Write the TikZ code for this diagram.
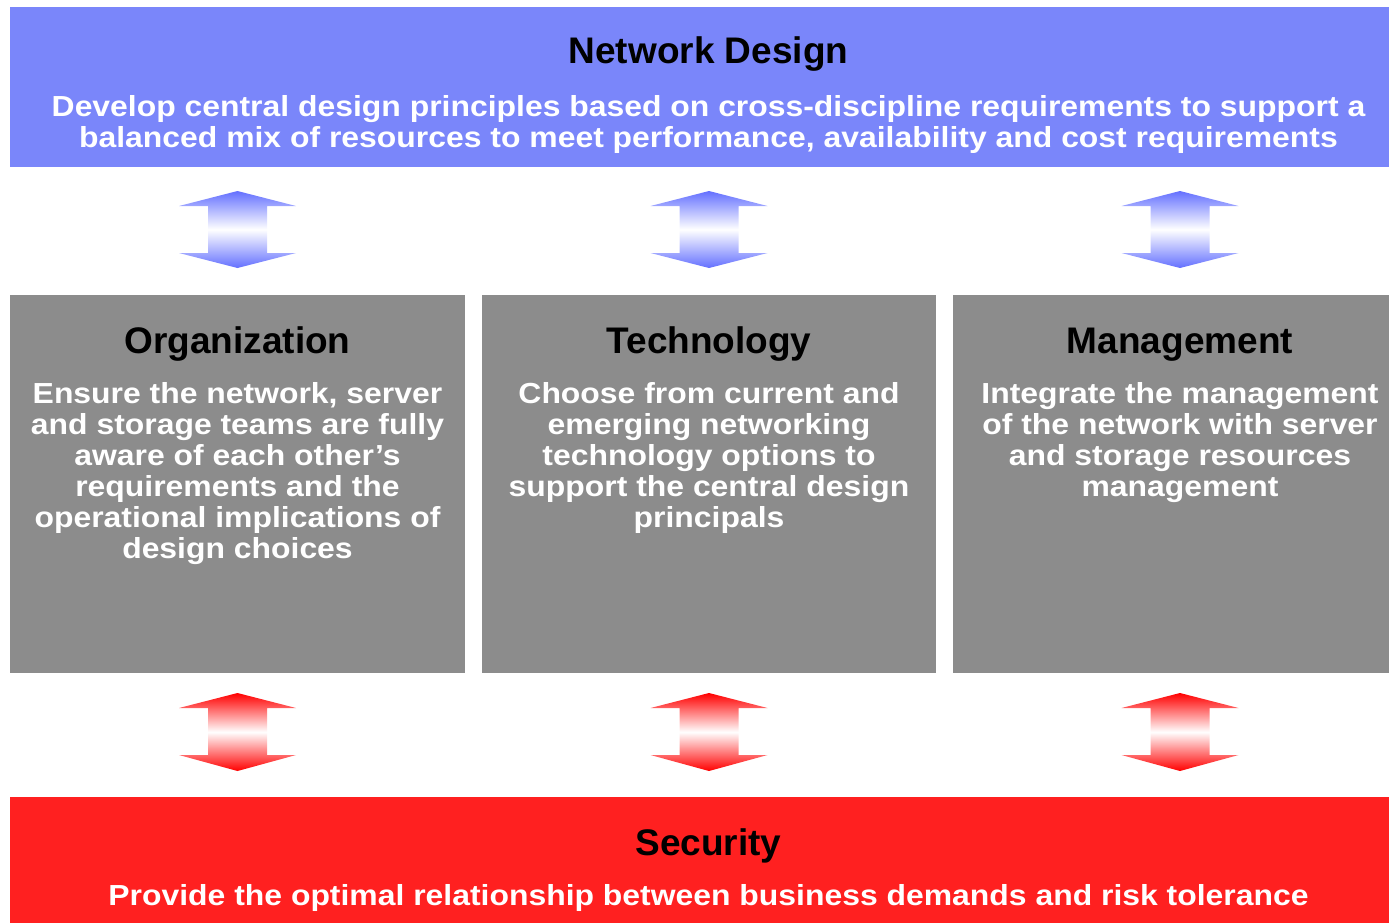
\documentclass[tikz,border=0pt]{standalone}
\usepackage{fontspec}
\setmainfont{Liberation Sans}
\newfontfamily\widefont[FakeStretch=1.1]{Liberation Sans}
\definecolor{designblue}{RGB}{122,134,250}
\definecolor{boxgray}{RGB}{140,140,140}
\definecolor{secred}{RGB}{255,32,32}
\definecolor{arrblue}{RGB}{100,112,255}
\definecolor{arrred}{RGB}{255,0,0}
\begin{document}
\begin{tikzpicture}[x=1pt,y=-1pt,
  panel/.style={rectangle, inner sep=0pt, outer sep=0pt},
  head/.style={anchor=base, inner sep=0pt, font=\fontsize{37}{39}\selectfont\bfseries},
  body/.style={anchor=base, inner sep=0pt, align=center, text=white, font=\widefont\fontsize{29}{31}\selectfont\bfseries}]
\useasboundingbox (0,0) rectangle (1389,922);
\clip (0,0) rectangle (1389,922);
% boxes
\node[panel, fill=designblue, minimum width=1397pt, minimum height=160pt] (design) at (708.5,87){};
\node[panel, fill=boxgray, minimum width=455pt, minimum height=378pt] (org) at (237.5,484){};
\node[panel, fill=boxgray, minimum width=454pt, minimum height=378pt] (tech) at (709,484){};
\node[panel, fill=boxgray, minimum width=454pt, minimum height=378pt] (mgmt) at (1180,484){};
\node[panel, fill=secred, minimum width=1397pt, minimum height=128pt] (sec) at (708.5,861){};
% texts (body nodes sit on the baseline of their last line)
\node[head] (designhead) at (708.5,63){Network Design};
\node[body] (designbody) at (708.5,147){Develop central design principles based on cross-discipline requirements to support a\\balanced mix of resources to meet performance, availability and cost requirements};
\node[head] (orghead) at (237.5,353){Organization};
\node[body] (orgbody) at (237.5,558){Ensure the network, server\\and storage teams are fully\\aware of each other’s\\requirements and the\\operational implications of\\design choices};
\node[head] (techhead) at (709,353){Technology};
\node[body] (techbody) at (709,527){Choose from current and\\emerging networking\\technology options to\\support the central design\\principals};
\node[head] (mgmthead) at (1180,353){Management};
\node[body] (mgmtbody) at (1180,496){Integrate the management\\of the network with server\\and storage resources\\management};
\node[head] (sechead) at (708.5,855){Security};
\node[body] (secbody) at (708.5,905){Provide the optimal relationship between business demands and risk tolerance};
% double arrows
\foreach \cx in {237.5,709,1180}{
  \shade[top color=arrblue, bottom color=arrblue, middle color=white]
    (\cx,191) -- (\cx+58.5,206) -- (\cx+29.5,206) -- (\cx+29.5,253) -- (\cx+58.5,253)
    -- (\cx,268) -- (\cx-58.5,253) -- (\cx-29.5,253) -- (\cx-29.5,206) -- (\cx-58.5,206) -- cycle;
  \shade[top color=arrred, bottom color=arrred, middle color=white]
    (\cx,693) -- (\cx+58.5,708) -- (\cx+29.5,708) -- (\cx+29.5,755) -- (\cx+58.5,755)
    -- (\cx,771) -- (\cx-58.5,755) -- (\cx-29.5,755) -- (\cx-29.5,708) -- (\cx-58.5,708) -- cycle;
}
\end{tikzpicture}
\end{document}
